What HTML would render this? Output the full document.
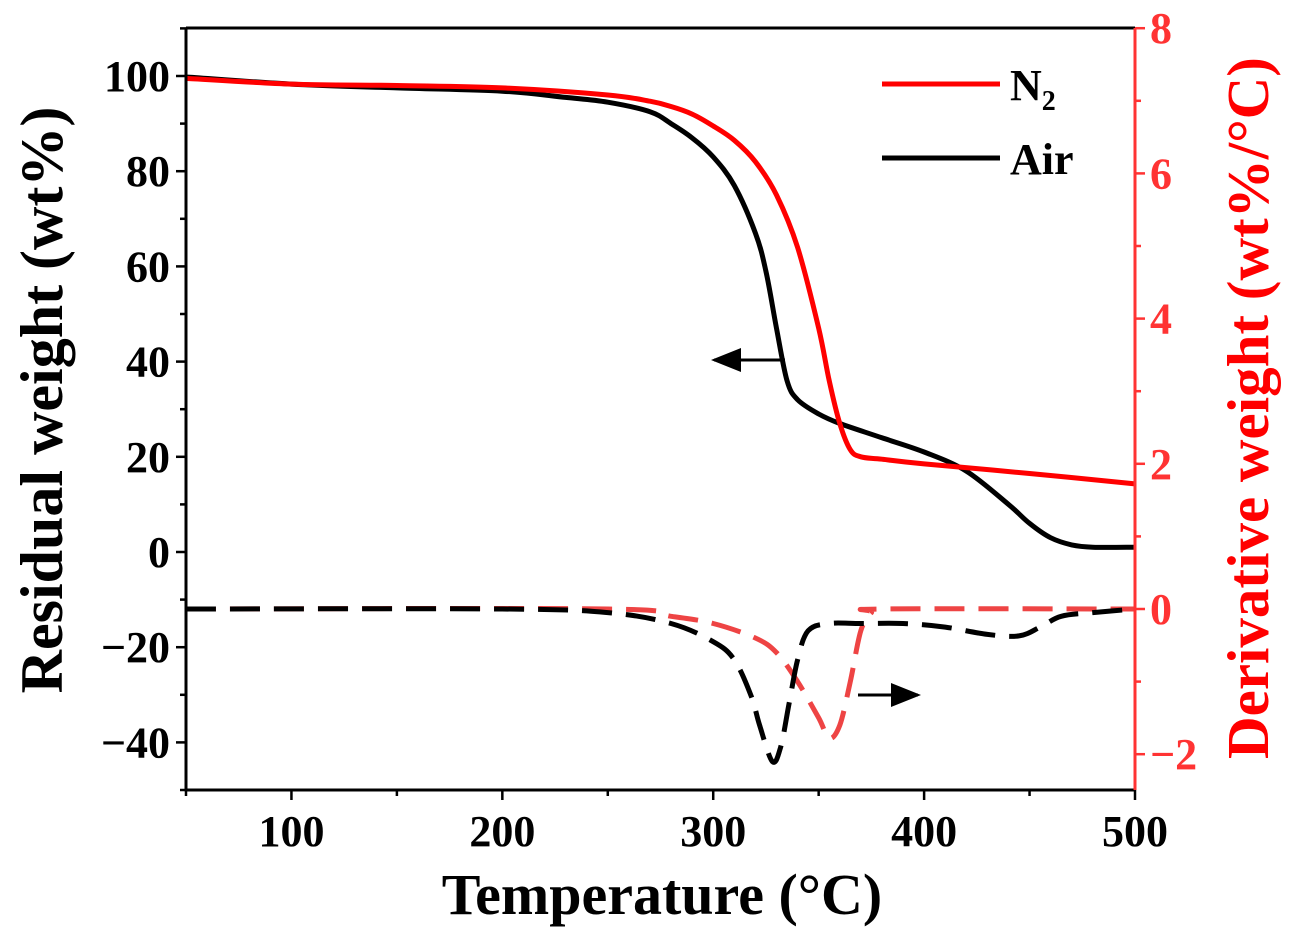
<!DOCTYPE html>
<html><head><meta charset="utf-8">
<style>
html,body{margin:0;padding:0;background:#fff;}
svg{display:block;font-family:"Liberation Serif",serif;font-weight:bold;}
</style></head>
<body>
<svg id="chart" width="1290" height="933" viewBox="0 0 1290 933">
<defs>
<marker id="ah" markerWidth="10" markerHeight="8" refX="9" refY="4" orient="auto"><path d="M0,0 L10,4 L0,8 Z" fill="#000"/></marker>
</defs>
<g id="plot"></g>
</svg>
<script>
const tgTemps = [50,100,150,200,250,270,280,290,300,310,320,330,340,350,355,360,365,370,380,400,450,500];
const tgN2 = [99.5,98.3,98,97.5,96,94.7,93.6,92,89.5,86.5,82,75,64,47,36,27,21.5,20,19.5,18.5,16.5,14.3];
const tgAirTemps = [50,100,150,200,230,250,270,280,290,300,310,320,325,330,335,340,350,360,380,400,420,440,450,460,470,480,500];
const tgAir = [99.8,98.3,97.5,96.8,95.5,94.5,92.5,90,87,83,77,67,59,47,36,32,29,27,24,21,17,10,6,3,1.5,1,1];
const dtgN2Temps = [50,250,280,300,320,330,340,350,355,360,365,370,375,380,500];
const dtgN2 = [0,0,-0.1,-0.2,-0.4,-0.6,-1.0,-1.5,-1.78,-1.6,-1.0,-0.3,-0.05,0,0];
const dtgAirTemps = [50,200,250,280,300,310,318,322,328,332,336,340,345,355,370,390,410,430,445,455,465,480,500];
const dtgAir = [0,0,-0.05,-0.2,-0.45,-0.7,-1.2,-1.6,-2.1,-1.9,-1.3,-0.7,-0.3,-0.2,-0.2,-0.2,-0.25,-0.35,-0.37,-0.25,-0.1,-0.05,0];
const xTicks = [100,200,300,400,500];
const yLeftTicks = [100,80,60,40,20,0,-20,-40];
const yRightTicks = [8,6,4,2,0,-2];

const L=186,R=1135,T=28,B=790;
const X=v=>L+(v-50)*(R-L)/450;
const YL=v=>552-v*4.76;
const YR=v=>609-v*72.6;
const NS="http://www.w3.org/2000/svg";
const g=document.getElementById('plot');
function el(tag,attrs,name,text){const e=document.createElementNS(NS,tag);for(const k in attrs)e.setAttribute(k,attrs[k]);


if(text!==undefined)e.textContent=text;g.appendChild(e);return e;}
function path(xs,ys,fy){
  const p=xs.map((t,i)=>[X(t),fy(ys[i])]);
  let d='M'+p[0][0].toFixed(1)+','+p[0][1].toFixed(1);
  for(let i=0;i<p.length-1;i++){
    const p0=p[Math.max(0,i-1)],p1=p[i],p2=p[i+1],p3=p[Math.min(p.length-1,i+2)];
    const c1x=p1[0]+(p2[0]-p0[0])/6,c1y=p1[1]+(p2[1]-p0[1])/6;
    const c2x=p2[0]-(p3[0]-p1[0])/6,c2y=p2[1]-(p3[1]-p1[1])/6;
    d+=` C${c1x.toFixed(1)},${c1y.toFixed(1)} ${c2x.toFixed(1)},${c2y.toFixed(1)} ${p2[0].toFixed(1)},${p2[1].toFixed(1)}`;
  }
  return d;
}

// series
el('path',{d:path(dtgN2Temps,dtgN2,YR),fill:'none',stroke:'#ee4444','stroke-width':5,'stroke-dasharray':'30,14'},'dtg-n2-line');
el('path',{d:path(dtgAirTemps,dtgAir,YR),fill:'none',stroke:'#000','stroke-width':5,'stroke-dasharray':'30,14'},'dtg-air-line');
el('path',{d:path(tgAirTemps,tgAir,YL),fill:'none',stroke:'#000','stroke-width':5},'tg-air-line');
el('path',{d:path(tgTemps,tgN2,YL),fill:'none',stroke:'#ff0000','stroke-width':5},'tg-n2-line');

// frame
el('path',{d:`M${L},${T} L${R},${T} M${L},${T} L${L},${B} L${R},${B}`,fill:'none',stroke:'#000','stroke-width':3},'axes-frame');
el('line',{x1:R,y1:T,x2:R,y2:B,stroke:'#ff3333','stroke-width':3},'right-axis-line');

// x ticks
for(let v=50;v<=500;v+=50){const maj=v%100===0;el('line',{x1:X(v),y1:B,x2:X(v),y2:B+(maj?10:6),stroke:'#000','stroke-width':2.5},'x-tick');}
xTicks.forEach(v=>el('text',{x:X(v),y:B+56,'font-size':44,'text-anchor':'middle'},'x-tick-label',v));
// left ticks
for(let v=-50;v<=110;v+=10){const maj=v%20===0;el('line',{x1:L,y1:YL(v),x2:L-(maj?10:6),y2:YL(v),stroke:'#000','stroke-width':2.5},'y-left-tick');}
yLeftTicks.forEach(v=>el('text',{x:170,y:YL(v)+15,'font-size':44,'text-anchor':'end'},'y-left-tick-label',v<0?'\u2212'+(-v):v));
// right ticks
for(let v=-2;v<=8;v+=1){const maj=v%2===0;el('line',{x1:R,y1:YR(v),x2:R+(maj?10:6),y2:YR(v),stroke:'#ff3333','stroke-width':2.5},'y-right-tick');}
yRightTicks.forEach(v=>el('text',{x:1150,y:YR(v)+15,'font-size':44,fill:'#ff3333'},'y-right-tick-label',v<0?'\u2212'+(-v):v));

// titles
el('text',{x:662,y:914,'font-size':58,'text-anchor':'middle'},'x-axis-title','Temperature (\u00B0C)');
el('text',{x:0,y:0,'font-size':60,'text-anchor':'middle',transform:'translate(62,400) rotate(-90)'},'y-left-axis-title','Residual weight (wt%)');
el('text',{x:0,y:0,'font-size':59,'text-anchor':'middle',fill:'#ff0000',transform:'translate(1268,408) rotate(-90)'},'y-right-axis-title','Derivative weight (wt%/\u00B0C)');

// legend
el('line',{x1:882,y1:84,x2:1000,y2:84,stroke:'#ff0000','stroke-width':5},'legend-n2-line');
const t=el('text',{x:1010,y:100,'font-size':44},'legend-n2-label','N');
const s=document.createElementNS(NS,'tspan');s.setAttribute('font-size','28');s.setAttribute('dy','10');s.textContent='2';t.appendChild(s);
el('line',{x1:882,y1:158,x2:1000,y2:158,stroke:'#000','stroke-width':5},'legend-air-line');
el('text',{x:1010,y:174,'font-size':44},'legend-air-label','Air');

// arrows
el('line',{x1:785,y1:360,x2:714,y2:360,stroke:'#000','stroke-width':3,'marker-end':'url(#ah)'},'left-axis-arrow');
el('line',{x1:858,y1:695,x2:918,y2:695,stroke:'#000','stroke-width':3,'marker-end':'url(#ah)'},'right-axis-arrow');
</script>
</body></html>
